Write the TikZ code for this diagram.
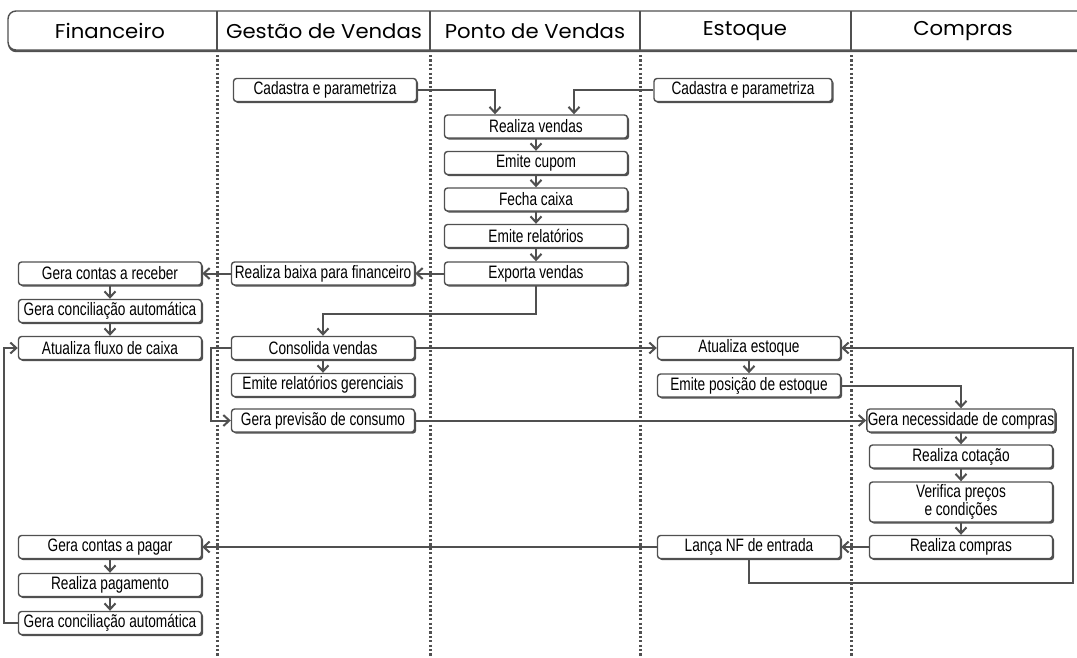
\documentclass[tikz,border=0pt]{standalone}
\usepackage{fontspec}
\usetikzlibrary{arrows.meta,shadows}
\newfontfamily\boxfont[FakeStretch=0.76]{Liberation Sans}
\newfontfamily\headfont[FakeStretch=1.06]{Poppins}
\definecolor{linegray}{HTML}{505050}

\begin{document}
\begin{tikzpicture}[x=1pt,y=-1pt,>={Straight Barb[length=6pt,width=11pt]},
  proc/.style={draw=linegray,line width=1.4pt,rounded corners=3pt,fill=white,
    minimum width=183pt,minimum height=23pt,inner sep=1pt,
    font=\boxfont\fontsize{18}{15.5}\selectfont,
    drop shadow={shadow xshift=1.6pt,shadow yshift=-1.6pt,fill=linegray,opacity=1}},
  flow/.style={->,draw=linegray,line width=2pt},
  lane/.style={draw=linegray,line width=3pt,dash pattern=on 2.2pt off 2.2pt},
  head/.style={font=\headfont\fontsize{20}{22}\selectfont}]
  \useasboundingbox (0,0) rectangle (1077,657);

  % header
  \draw[draw=linegray,line width=1.4pt,rounded corners=8pt,fill=white,
    drop shadow={shadow xshift=0pt,shadow yshift=-2.2pt,fill=linegray,opacity=1}]
    (8,11) rectangle (1100,50);
  \foreach \x in {217,430,640,851}
    \draw[linegray,line width=1.4pt] (\x,11) -- (\x,50);
  \node[head] (hFin) at (110,31) {Financeiro};
  \node[head] (hGes) at (324,31) {Gestão de Vendas};
  \node[head] (hPdv) at (535,31) {Ponto de Vendas};
  \node[head] (hEst) at (745,31) {Estoque};
  \node[head] (hCom) at (963,31) {Compras};

  % lanes
  \foreach \x in {217,430,640,851}
    \draw[lane] (\x,55) -- (\x,657);

  % Gestao de Vendas
  \node[proc] (cadG) at (325,90) {Cadastra e parametriza};
  \node[proc] (rb) at (323,273.5) {Realiza baixa para financeiro};
  \node[proc] (cv) at (323,348) {Consolida vendas};
  \node[proc] (erg) at (323,385) {Emite relatórios gerenciais};
  \node[proc] (gpc) at (323,420.5) {Gera previsão de consumo};
  % Ponto de Vendas
  \node[proc] (rv) at (536,126.5) {Realiza vendas};
  \node[proc] (ec) at (536,163) {Emite cupom};
  \node[proc] (fc) at (536,199.5) {Fecha caixa};
  \node[proc] (er) at (536,236) {Emite relatórios};
  \node[proc] (ev) at (536,273.5) {Exporta vendas};
  % Financeiro
  \node[proc] (gcr) at (110,273.5) {Gera contas a receber};
  \node[proc] (gca) at (110,311) {Gera conciliação automática};
  \node[proc] (afc) at (110,348) {Atualiza fluxo de caixa};
  \node[proc] (gcp) at (110,547) {Gera contas a pagar};
  \node[proc] (rp) at (110,585) {Realiza pagamento};
  \node[proc] (gcb) at (110,623) {Gera conciliação automática};
  % Estoque
  \node[proc,minimum width=178pt] (cadE) at (743,90) {Cadastra e parametriza};
  \node[proc] (ae) at (749,348) {Atualiza estoque};
  \node[proc] (ep) at (749,385.5) {Emite posição de estoque};
  \node[proc] (nf) at (749,547) {Lança NF de entrada};
  % Compras
  \node[proc] (gnc) at (961,420.5) {Gera necessidade de compras};
  \node[proc] (rct) at (961,456.5) {Realiza cotação};
  \node[proc,minimum height=40pt,align=center] (vpc) at (961,502) {Verifica preços\\e condições};
  \node[proc] (rcp) at (961,547) {Realiza compras};

  % connectors
  \draw[flow] (cadG.east) -| ([xshift=-41pt]rv.north);
  \draw[flow] (cadE.west) -| ([xshift=38pt]rv.north);
  \foreach \a/\b in {rv/ec,ec/fc,fc/er,er/ev,gcr/gca,gca/afc,cv/erg,ae/ep,
      gnc/rct,rct/vpc,vpc/rcp,gcp/rp,rp/gcb}
    \draw[flow] (\a) -- (\b);
  \draw[flow] (ev.west) -- (rb.east);
  \draw[flow] (rb.west) -- (gcr.east);
  \draw[flow] (ev.south) -- ++(0,28) -| (cv.north);
  \draw[flow] (cv.east) -- (ae.west);
  \draw[flow] (cv.west) -- ++(-20,0) |- (gpc.west);
  \draw[flow] (gpc.east) -- (gnc.west);
  \draw[flow] (ep.east) -| (gnc.north);
  \draw[flow] (rcp.west) -- (nf.east);
  \draw[flow] (nf.west) -- (gcp.east);
  \coordinate (loopR) at (1073,348);
  \draw[flow] (nf.south) -- ++(0,24) -| (loopR) -- (ae.east);
  \coordinate (loopL) at (4,623);
  \draw[flow] (gcb.west) -- (loopL) |- (afc.west);
\end{tikzpicture}
\end{document}
